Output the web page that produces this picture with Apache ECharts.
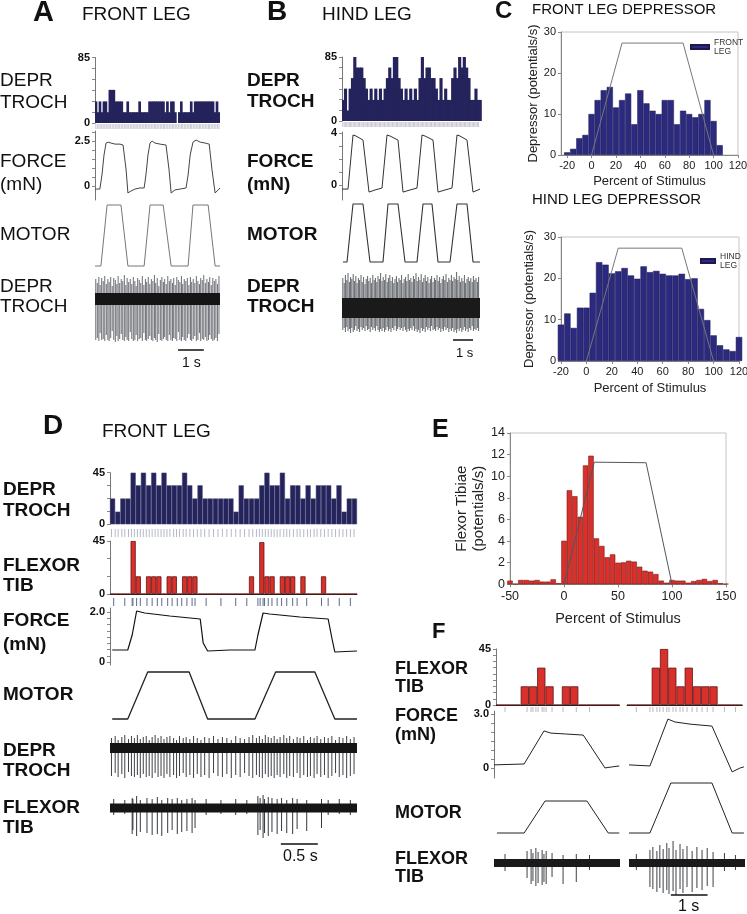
<!DOCTYPE html>
<html><head><meta charset="utf-8">
<script src="https://cdn.jsdelivr.net/npm/echarts@6/dist/echarts.min.js"></script>
<style>html,body{margin:0;padding:0;background:#fff}#c{width:747px;height:914px}</style>
</head><body><div id="c"></div>
<script>
const FONT = '"Liberation Sans", Arial, Helvetica, sans-serif';

// ---------- DATA ----------
// Panel A (front leg): depressor firing histogram (spikes/s per bin), force (mN), motor (normalised)
const histA = [28,14,28,14,28,28,14,43,43,43, 28,28,28,28,14,14,28,14,14,14, 14,14,28,14,14,14,14,28,28,28,
  28,28,28,28,28,14,28,14,28,28, 14,0,14,28,14,14,14,14,28,14, 28,28,28,28,28,28,28,28,28,28, 14,28,14];
const durA = 4.86; // s
const forceA = [[0,-0.17],[0.19,-0.17],[0.27,0.61],[0.35,1.72],[0.43,2.39],[0.51,2.44],[0.62,2.39],[0.78,2.33],[0.97,2.33],[1.09,2.28],[1.21,0.89],[1.28,-0.39],[1.40,-0.28],[1.56,-0.17],[1.75,-0.11],[1.91,-0.11],[1.98,0.61],[2.06,1.72],[2.14,2.39],[2.22,2.5],[2.33,2.39],[2.53,2.33],[2.76,2.28],[2.88,0.89],[2.96,-0.39],[3.11,-0.22],[3.31,-0.17],[3.54,-0.11],[3.62,0.61],[3.70,1.72],[3.81,2.44],[3.93,2.56],[4.09,2.44],[4.28,2.39],[4.44,2.33],[4.55,0.89],[4.67,-0.39],[4.79,-0.22],[4.86,-0.11]];
const motorA = [[0,0],[0.23,0],[0.47,1],[1.01,1],[1.28,0],[1.91,0],[2.14,1],[2.65,1],[2.96,0],[3.62,0],[3.81,1],[4.40,1],[4.67,0],[4.86,0]];
// recorded spikes: [time s, upward peak, downward peak] (relative units)
const spikesA = [[0.03,2.0,-4.1],[0.09,1.6,-3.9],[0.15,2.2,-4.2],[0.20,1.4,-3.4],[0.26,2.1,-4.1],[0.32,1.8,-4.0],[0.38,2.3,-4.2],[0.44,1.5,-3.6],[0.50,2.0,-4.1],[0.55,1.7,-4.2],[0.61,2.2,-3.9],[0.67,1.3,-3.2],[0.73,2.1,-4.1],[0.79,1.9,-4.3],[0.85,1.5,-3.7],[0.90,2.3,-4.2],[0.96,1.6,-4.0],[1.02,2.0,-3.5],[1.08,1.8,-4.1],[1.14,2.4,-4.2],[1.20,1.4,-3.8],[1.25,2.1,-4.1],[1.31,1.7,-4.2],[1.37,2.0,-3.3],[1.43,1.5,-4.0],[1.49,2.2,-4.2],[1.55,1.8,-4.1],[1.60,1.3,-3.6],[1.66,2.1,-4.2],[1.72,1.9,-4.0],[1.78,1.6,-3.9],[1.84,2.3,-4.2],[1.90,1.4,-3.4],[1.96,2.0,-4.1],[2.01,1.7,-4.2],[2.07,2.2,-4.0],[2.13,1.5,-3.7],[2.19,2.0,-4.1],[2.25,1.8,-4.2],[2.31,2.4,-3.9],[2.36,1.6,-4.1],[2.42,2.1,-4.3],[2.48,1.3,-3.5],[2.54,1.9,-4.1],[2.60,2.2,-4.2],[2.66,1.7,-4.0],[2.71,2.0,-3.8],[2.77,1.5,-4.1],[2.83,2.3,-4.2],[2.89,1.8,-3.6],[2.95,2.0,-4.1],[3.01,1.6,-4.2],[3.06,2.1,-3.9],[3.12,1.4,-4.0],[3.18,2.2,-4.2],[3.24,1.9,-3.3],[3.30,1.7,-4.1],[3.36,2.3,-4.2],[3.41,1.5,-3.8],[3.47,2.0,-4.1],[3.53,1.8,-4.2],[3.59,2.1,-3.9],[3.65,1.4,-3.5],[3.71,2.2,-4.1],[3.76,1.7,-4.2],[3.82,2.0,-4.0],[3.88,1.6,-3.7],[3.94,2.3,-4.2],[4.00,1.8,-4.1],[4.06,1.5,-3.4],[4.11,2.1,-4.2],[4.17,1.9,-4.0],[4.23,2.4,-4.1],[4.29,1.6,-3.8],[4.35,2.0,-4.2],[4.41,1.7,-4.1],[4.46,2.2,-3.6],[4.52,1.4,-4.0],[4.58,2.1,-4.2],[4.64,1.8,-4.1],[4.70,2.0,-3.9],[4.76,1.5,-4.2],[4.82,2.3,-3.5]];

// Panel B (hind leg)
const histB = [28,43,14,43,57,85,71,71,71,57, 43,28,43,28,43,28,43,28,43,57, 71,57,85,85,57,43,28,43,28,43,
  28,43,28,57,85,57,71,71,57,57, 43,28,57,28,43,28,28,57,71,57, 85,71,85,71,57,28,28,43,28,28];
const durB = 6.9;
const forceB = [[0,-0.31],[0.3,-0.31],[0.55,3.85],[0.7,3.77],[1.05,3.46],[1.35,-0.54],[1.65,-0.38],[2.0,-0.23],[2.25,3.85],[2.4,3.77],[2.8,3.46],[3.05,-0.54],[3.4,-0.38],[3.75,-0.23],[4.0,3.85],[4.15,3.77],[4.55,3.46],[4.8,-0.54],[5.15,-0.38],[5.5,-0.23],[5.75,3.85],[5.9,3.77],[6.25,3.46],[6.55,-0.54],[6.9,-0.31]];
const motorB = [[0.05,0],[0.25,0],[0.55,1],[1.05,1],[1.4,0],[2.05,0],[2.3,1],[2.8,1],[3.15,0],[3.75,0],[4.05,1],[4.5,1],[4.8,0],[5.4,0],[5.75,1],[6.25,1],[6.55,0],[6.9,0]];
const spikesB = [[0.04,3.0,-2.2],[0.11,2.5,-2.0],[0.17,3.3,-2.4],[0.24,2.8,-1.9],[0.30,3.5,-2.3],[0.37,2.6,-2.1],[0.43,3.1,-2.5],[0.49,2.9,-2.0],[0.56,3.4,-2.4],[0.62,2.7,-2.2],[0.69,3.2,-1.8],[0.75,2.5,-2.3],[0.82,3.0,-2.1],[0.88,2.8,-2.4],[0.95,3.3,-1.9],[1.01,2.6,-2.2],[1.08,3.1,-2.0],[1.15,2.4,-2.3],[1.21,2.9,-1.8],[1.28,3.2,-2.2],[1.34,2.7,-2.1],[1.41,3.0,-2.4],[1.47,2.5,-1.9],[1.54,3.3,-2.2],[1.61,2.8,-2.0],[1.67,3.0,-2.3],[1.74,2.6,-1.8],[1.80,3.2,-2.2],[1.87,2.9,-2.4],[1.93,3.5,-2.1],[2.00,2.7,-2.3],[2.06,3.1,-2.0],[2.13,2.8,-2.4],[2.19,3.4,-2.2],[2.26,2.6,-1.9],[2.32,3.0,-2.3],[2.39,3.3,-2.1],[2.45,2.7,-2.4],[2.52,3.1,-2.0],[2.59,2.5,-2.2],[2.65,2.9,-1.8],[2.72,3.2,-2.3],[2.78,2.6,-2.1],[2.85,3.0,-1.9],[2.91,2.8,-2.2],[2.98,3.3,-2.0],[3.05,2.5,-2.3],[3.11,2.9,-1.9],[3.18,3.1,-2.2],[3.24,2.7,-2.4],[3.31,3.4,-2.1],[3.37,2.8,-2.3],[3.44,3.0,-2.0],[3.50,2.6,-2.2],[3.57,3.2,-1.8],[3.63,2.9,-2.3],[3.70,3.5,-2.1],[3.76,2.7,-2.4],[3.83,3.1,-2.2],[3.90,2.8,-2.5],[3.96,3.4,-2.0],[4.03,2.6,-2.3],[4.09,3.0,-2.1],[4.16,3.3,-2.4],[4.22,2.7,-1.9],[4.29,3.1,-2.2],[4.35,2.5,-2.0],[4.42,2.9,-2.3],[4.48,3.2,-1.8],[4.55,2.6,-2.2],[4.62,3.0,-2.1],[4.68,2.8,-2.3],[4.75,3.3,-1.9],[4.81,2.7,-2.2],[4.88,3.1,-2.0],[4.94,2.5,-2.4],[5.01,2.9,-2.1],[5.07,3.2,-2.3],[5.14,2.8,-1.9],[5.20,3.4,-2.2],[5.27,2.6,-2.0],[5.34,3.0,-2.4],[5.40,2.8,-2.1],[5.47,3.3,-2.3],[5.53,2.7,-2.0],[5.60,3.1,-2.4],[5.66,2.9,-2.2],[5.73,3.6,-2.5],[5.79,2.8,-2.1],[5.86,3.2,-2.3],[5.92,2.6,-2.0],[5.99,3.0,-2.4],[6.05,2.7,-2.2],[6.12,3.3,-1.9],[6.18,2.5,-2.3],[6.25,2.9,-2.1],[6.31,3.1,-2.4],[6.38,2.7,-2.0],[6.44,3.0,-2.2],[6.51,2.6,-1.8],[6.57,3.2,-2.3],[6.64,2.8,-2.1],[6.70,3.0,-2.2],[6.77,2.6,-2.0],[6.83,3.1,-2.3]];

// Panel C: depressor rate vs percent of stimulus (5% bins)
const cFrontX = [-20,-15,-10,-5,0,5,10,15,20,25,30,35,40,45,50,55,60,65,70,75,80,85,90,95,100,105];
const cFront  = [0.65,1.5,4.1,4.9,10.0,13.4,15.8,16.6,11.6,13.4,15.0,7.5,15.8,12.6,10.8,10.0,13.4,13.4,7.5,10.8,10.0,9.2,10.0,13.4,8.3,2.4];
const cHindX  = [-20,-15,-10,-5,0,5,10,15,20,25,30,35,40,45,50,55,60,65,70,75,80,85,90,95,100,105,110,115,120];
const cHind   = [8.8,11.5,8.0,12.9,12.9,16.5,23.9,23.3,21.2,21.7,22.5,20.7,19.9,22.9,21.5,21.8,21.1,20.7,20.7,21.1,19.8,20.0,12.6,9.9,6.2,3.8,2.8,2.4,5.8];
const cStim   = [[0,0],[25,27.3],[75,27.3],[100,0]];

// Panel D (front leg, depressor + flexor)
const histD = [22.5,11,22.5,22.5,45,34,45,34,45,34, 45,34,34,34,45,34,22.5,34,22.5,22.5, 22.5,22.5,22.5,22.5,11,34,22.5,22.5,22.5,34,
  45,34,34,45,22.5,34,34,22.5,34,22.5, 34,34,34,22.5,34,11,22.5,22.5];
const flexD = [0,0,0,0,45,15,0,15,15,15, 0,15,15,0,15,15,15,0,0,0, 0,0,0,0,0,0,0,15,0,44,
  15,15,0,15,15,15,0,15,0,0, 0,15,0,0,0,0,0,0];
const durD = 3.34;
const forceD = [[0.03,0.48],[0.24,0.48],[0.30,1.08],[0.36,2.04],[0.47,1.96],[0.81,1.84],[1.22,1.72],[1.26,0.76],[1.32,0.44],[1.62,0.48],[1.96,0.48],[2.0,1.08],[2.07,1.96],[2.16,1.92],[2.57,1.8],[2.95,1.72],[3.0,0.96],[3.04,0.4],[3.34,0.44]];
const motorD = [[0.03,0],[0.24,0],[0.51,1],[1.07,1],[1.32,0],[1.96,0],[2.24,1],[2.77,1],[3.04,0],[3.34,0]];
const spikesDdepr = [[0.02,1.0,-2.8],[0.07,1.2,-2.5],[0.11,0.8,-2.9],[0.16,1.1,-2.6],[0.20,1.3,-3.0],[0.25,0.9,-2.4],[0.29,1.2,-2.8],[0.33,1.0,-2.9],[0.37,1.3,-2.7],[0.41,0.9,-3.0],[0.45,1.1,-2.6],[0.49,1.2,-2.9],[0.53,0.8,-2.8],[0.57,1.1,-3.0],[0.61,1.3,-2.5],[0.65,1.0,-2.9],[0.69,1.2,-2.8],[0.73,0.9,-3.0],[0.77,1.1,-2.6],[0.81,1.2,-2.9],[0.86,1.0,-2.7],[0.90,0.8,-3.0],[0.94,1.2,-2.8],[0.99,1.0,-2.5],[1.03,1.1,-2.9],[1.08,0.9,-2.7],[1.13,1.2,-3.0],[1.18,1.0,-2.6],[1.23,0.8,-2.9],[1.28,1.1,-2.7],[1.34,1.0,-3.0],[1.40,1.2,-2.5],[1.46,0.9,-2.8],[1.52,1.1,-2.9],[1.58,1.0,-2.6],[1.64,0.8,-3.0],[1.70,1.2,-2.7],[1.76,1.0,-2.9],[1.82,0.9,-2.5],[1.88,1.1,-2.8],[1.93,1.3,-3.0],[1.98,1.0,-2.7],[2.02,1.2,-2.9],[2.06,0.9,-3.0],[2.10,1.3,-2.6],[2.14,1.1,-2.9],[2.18,1.0,-2.8],[2.22,1.2,-3.0],[2.26,0.9,-2.7],[2.30,1.1,-2.9],[2.35,1.3,-2.6],[2.39,1.0,-3.0],[2.43,1.2,-2.8],[2.48,0.9,-2.9],[2.53,1.1,-2.5],[2.57,1.0,-3.0],[2.62,1.2,-2.7],[2.67,0.8,-2.9],[2.71,1.1,-2.8],[2.76,1.0,-3.0],[2.80,1.2,-2.6],[2.85,0.9,-2.9],[2.90,1.1,-2.7],[2.95,1.0,-3.0],[3.00,1.2,-2.8],[3.05,0.8,-2.5],[3.10,1.1,-2.9],[3.15,1.0,-2.7],[3.20,1.2,-3.0],[3.25,0.9,-2.8],[3.30,1.1,-2.6]];
const spikesDflex = [[0.05,0.9,-0.7],[0.20,0.8,-0.6],[0.30,1.0,-2.6],[0.31,0.9,-2.2],[0.36,1.2,-2.8],[0.41,0.8,-2.4],[0.50,1.0,-2.5],[0.57,0.9,-2.7],[0.64,1.1,-2.6],[0.70,0.8,-2.8],[0.78,1.0,-2.5],[0.84,0.9,-2.2],[0.91,1.0,-2.6],[0.97,0.8,-2.4],[1.04,0.9,-2.3],[1.11,1.0,-2.5],[1.15,0.8,-2.0],[1.30,0.9,-0.7],[1.50,0.8,-0.6],[1.70,0.9,-0.7],[1.85,0.8,-0.6],[2.00,1.2,-2.7],[2.03,1.0,-2.2],[2.07,1.3,-3.0],[2.09,0.9,-2.5],[2.14,1.1,-2.8],[2.19,1.0,-2.4],[2.26,0.9,-2.6],[2.32,1.0,-2.3],[2.39,0.8,-2.5],[2.47,1.0,-2.6],[2.53,0.9,-2.1],[2.66,0.8,-2.3],[2.86,0.9,-2.0],[2.95,0.8,-0.7],[3.10,0.9,-0.6],[3.25,0.8,-0.7]];

// Panel E: flexor tibiae rate vs percent of stimulus
const eX = [-50,-45,-40,-35,-30,-25,-20,-15,-10,-5,0,5,10,15,20,25,30,35,40,45,50,55,60,65,70,75,80,85,90,95,100,105,110,115,120,125,130,135,140,145,150];
const eY = [0.34,0.05,0.4,0.4,0.34,0.4,0.25,0.25,0.46,0.1,4.03,8.7,8.15,6.25,11.0,11.9,4.25,3.55,2.5,2.77,2.0,2.03,2.18,2.1,1.63,1.26,1.17,0.95,0.34,0.15,0.4,0.34,0.34,0.15,0.3,0.4,0.5,0.3,0.4,0.1,0.05];
const eStim = [[0,0],[28,11.3],[76,11.25],[100,0]];

// Panel F: two stimuli of different amplitude
const histFL = [0,0,0,15,15,30,15,0,15,15,0,0,0,0,0];
const histFR = [0,0,0,30,45,30,15,30,15,15,15,0,0,0];
const durFL = 3.43, durFR = 3.16;
const forceFL = [[0,0.17],[0.82,0.22],[1.36,2.06],[1.55,1.94],[1.95,1.89],[2.43,1.83],[3.02,0],[3.22,0.06],[3.41,0.11]];
const forceFR = [[0,0.17],[0.57,0.11],[1.06,2.72],[1.25,2.56],[1.66,2.44],[2.26,2.33],[2.81,-0.22],[3.03,0],[3.13,0.06]];
const motorFL = [[0.08,0],[0.82,0],[1.39,0.64],[2.53,0.64],[3.11,0],[3.41,0]];
const motorFR = [[0,0],[0.57,0],[1.14,1],[2.26,1],[2.81,0],[3.13,0]];
const spikesFL = [[0.30,0.9,-0.8],[0.90,1.2,-1.5],[1.01,1.4,-2.1],[1.06,1.0,-1.8],[1.14,1.5,-2.3],[1.20,1.1,-2.0],[1.31,1.3,-2.2],[1.36,0.9,-1.9],[1.42,1.2,-2.1],[1.58,1.0,-1.4],[1.88,0.8,-2.1],[2.24,0.9,-1.9],[2.60,0.8,-0.7]];
const spikesFR = [[0.20,0.9,-0.7],[0.57,1.3,-2.4],[0.65,1.6,-2.6],[0.76,1.2,-2.9],[0.84,1.8,-2.5],[0.93,1.4,-3.0],[1.03,2.0,-2.7],[1.09,1.5,-3.1],[1.20,2.2,-2.8],[1.28,1.3,-3.2],[1.39,1.9,-2.6],[1.47,1.4,-3.0],[1.58,1.7,-2.4],[1.72,1.2,-2.9],[1.85,1.6,-2.5],[1.99,1.3,-2.7],[2.13,1.5,-2.3],[2.29,1.1,-2.4],[2.60,1.0,-0.8],[2.90,0.8,-0.7]];

// ---------- BUILD ----------
const grids = [], xAxes = [], yAxes = [], series = [];
function addGrid(b, xa, ya) {
  const i = grids.length;
  grids.push({left: b[0], top: b[1], width: b[2], height: b[3], containLabel: false, outerBoundsMode: 'none',
    show: !!b[4], borderColor: '#c4c4c4', borderWidth: 1, backgroundColor: 'transparent'});
  xAxes.push(Object.assign({gridIndex: i, type: 'value', show: false, splitLine: {show: false}}, xa));
  yAxes.push(Object.assign({gridIndex: i, type: 'value', show: false, splitLine: {show: false}}, ya));
  return i;
}
const tX = (max) => ({min: 0, max: max});
const catX = (n, line) => ({type: 'category', data: Array.from({length: n}, (_, k) => k), show: !!line,
  boundaryGap: true, axisLine: {show: !!line, lineStyle: {color: '#222', width: 1}}, axisTick: {show: false}, axisLabel: {show: false}});
function traceY(min, max, labels, ticks, fmt) {
  return {show: true, min: min, max: max,
    axisLine: {show: true, onZero: false, lineStyle: {color: '#777', width: 1}},
    axisTick: {show: true, customValues: ticks, length: 3, lineStyle: {color: '#888', width: 1}},
    axisLabel: {show: true, customValues: labels, formatter: fmt || (v => String(v)), fontFamily: FONT,
      fontWeight: 'bold', fontSize: 11, color: '#111', margin: 5},
    splitLine: {show: false}};
}
const hidY = (min, max) => ({min: min, max: max});
function lineS(gi, data, color, w) {
  return {type: 'line', xAxisIndex: gi, yAxisIndex: gi, data: data, symbol: 'none', showSymbol: false,
    silent: true, clip: false, lineStyle: {color: color, width: w}};
}
function histS(gi, data, color, border, bw, width) {
  const s = {type: 'bar', xAxisIndex: gi, yAxisIndex: gi, data: data, barCategoryGap: '0%', silent: true,
    itemStyle: {color: color, borderColor: border, borderWidth: bw}};
  if (width) s.barWidth = width;
  return s;
}
function spikeS(gi, data, color, w) {
  return {type: 'custom', xAxisIndex: gi, yAxisIndex: gi, data: data, silent: true, encode: {x: 0, y: [1, 2]},
    renderItem: function (p, api) {
      const a = api.coord([api.value(0), api.value(1)]), b = api.coord([api.value(0), api.value(2)]);
      return {type: 'line', shape: {x1: a[0], y1: a[1], x2: b[0], y2: b[1]}, style: {stroke: color, lineWidth: w}};
    }};
}
function rasterS(gi, data, color) {
  return {type: 'custom', xAxisIndex: gi, yAxisIndex: gi, data: data, silent: true, encode: {x: 0},
    renderItem: function (p, api) {
      const a = api.coord([api.value(0), 1]), b = api.coord([api.value(0), -1]);
      return {type: 'line', shape: {x1: a[0], y1: a[1], x2: b[0], y2: b[1]}, style: {stroke: color, lineWidth: 1}};
    }};
}
const NAVY = '#24235c', RED = '#d9302b', RED_B = '#5e1411';

// ---- Panel A ----
let g;
g = addGrid([95, 57.5, 125, 65.5], catX(histA.length), traceY(0, 85, [0, 85], [0, 14.2, 28.3, 42.5, 56.7, 70.8, 85]));
series.push(histS(g, histA, NAVY, NAVY, 0, '135%'));
g = addGrid([95, 124, 125, 5], tX(durA), hidY(-1, 1)); series.push(rasterS(g, spikesA, '#c8c8d0'));
g = addGrid([95, 131, 125, 69], tX(durA), traceY(-0.78, 3.06, [0, 2.5], [0, 0.5, 1, 1.5, 2, 2.5, 3]));
series.push(lineS(g, forceA, '#444', 1));
g = addGrid([95, 198.9, 125, 73.2], tX(durA), hidY(-0.1, 1.1)); series.push(lineS(g, motorA, '#777', 1));
g = addGrid([95, 272, 125, 80], tX(durA), hidY(-5.3, 2.7));
series.push(lineS(g, [[0, 0], [durA, 0]], '#151515', 12));
series.push(spikeS(g, spikesA, 'rgba(80,84,90,0.85)', 1));
series.push(lineS(g, [[3.23, -5.1], [4.23, -5.1]], '#111', 1.5));

// ---- Panel B ----
g = addGrid([342, 57, 139.8, 64], catX(histB.length), traceY(0, 85, [0, 85], [0, 14.2, 28.3, 42.5, 56.7, 70.8, 85]));
series.push(histS(g, histB, NAVY, NAVY, 0, '135%'));
g = addGrid([342, 122, 138, 5], tX(durB), hidY(-1, 1)); series.push(rasterS(g, spikesB, '#c8c8d0'));
g = addGrid([342, 132, 138, 68], tX(durB), traceY(-1.15, 4.08, [0, 4], [0, 1, 2, 3, 4]));
series.push(lineS(g, forceB, '#333', 1));
g = addGrid([342, 198.2, 138, 69.6], tX(durB), hidY(-0.1, 1.1)); series.push(lineS(g, motorB, '#333', 1.1));
g = addGrid([342, 270, 138, 72], tX(durB), hidY(-3.4, 3.8));
series.push(lineS(g, [[0, 0], [durB, 0]], '#1a1a1a', 20));
series.push(spikeS(g, spikesB, 'rgba(70,74,80,0.85)', 1));
series.push(lineS(g, [[5.55, -3.2], [6.55, -3.2]], '#111', 1.5));

// ---- Panel C ----
function cX(min, nameGap) {
  return {show: true, min: min, max: 120,
    axisLine: {show: true, onZero: false, lineStyle: {color: '#888'}},
    axisTick: {show: true, customValues: [-20, 0, 20, 40, 60, 80, 100, 120], length: 3, lineStyle: {color: '#888'}},
    axisLabel: {customValues: [-20, 0, 20, 40, 60, 80, 100, 120], fontFamily: FONT, fontSize: 11, color: '#222', margin: 5},
    name: 'Percent of Stimulus', nameLocation: 'middle', nameGap: nameGap,
    nameTextStyle: {fontFamily: FONT, fontSize: 13, color: '#222'}};
}
function cY(nameGap) {
  return {show: true, min: 0, max: 30, interval: 10,
    axisLine: {show: true, onZero: false, lineStyle: {color: '#888'}}, axisTick: {show: true, length: 3, lineStyle: {color: '#888'}},
    axisLabel: {fontFamily: FONT, fontSize: 11, color: '#222', margin: 5},
    name: 'Depressor (potentials/s)', nameLocation: 'middle', nameRotate: 90, nameGap: nameGap,
    nameTextStyle: {fontFamily: FONT, fontSize: 13, color: '#222'}};
}
g = addGrid([561, 32, 177, 123, true], cX(-25, 20), cY(20));
series.push({type: 'bar', name: 'FRONT LEG', xAxisIndex: g, yAxisIndex: g, barWidth: 6.1, silent: true,
  data: cFrontX.map((x, k) => [x, cFront[k]]), itemStyle: {color: '#2c2a7e', borderColor: '#1b1950', borderWidth: 0.5}});
series.push(lineS(g, cStim, '#777', 1));
g = addGrid([561, 237, 178, 124, true], cX(-20, 21), cY(25));
series.push({type: 'bar', name: 'HIND LEG', xAxisIndex: g, yAxisIndex: g, barWidth: 6.35, silent: true,
  data: cHindX.map((x, k) => [x, cHind[k]]), itemStyle: {color: '#2c2a7e', borderColor: '#1b1950', borderWidth: 0.5}});
series.push(lineS(g, cStim, '#777', 1));

// ---- Panel D ----
g = addGrid([110, 472.7, 247, 51.6], catX(histD.length), traceY(0, 45, [0, 45], [0, 11.25, 22.5, 33.75, 45]));
series.push(histS(g, histD, NAVY, '#4a4a78', 0.5));
g = addGrid([110, 529, 247, 8], tX(durD), hidY(-1, 1)); series.push(rasterS(g, spikesDdepr, '#b4b8c8'));
g = addGrid([110, 541, 247, 53], catX(flexD.length, true), traceY(0, 45, [0, 45], [0, 15, 30, 45]));
series.push(histS(g, flexD, RED, RED_B, 0.8));
g = addGrid([110, 598, 247, 8], tX(durD), hidY(-1, 1)); series.push(rasterS(g, spikesDflex, '#5d6b8c'));
g = addGrid([110, 608, 247, 57], tX(durD), traceY(-0.12, 2.16, [0, 2], [0, 0.25, 0.5, 0.75, 1, 1.25, 1.5, 1.75, 2], v => v === 2 ? '2.0' : String(v)));
series.push(lineS(g, forceD, '#111', 1.2));
g = addGrid([110, 667.3, 247, 56.4], tX(durD), hidY(-0.1, 1.1)); series.push(lineS(g, motorD, '#222', 1.3));
g = addGrid([110, 733, 247, 49], tX(durD), hidY(-3.4, 1.5));
series.push(lineS(g, [[0, 0], [durD, 0]], '#151515', 10));
series.push(spikeS(g, spikesDdepr, 'rgba(40,44,50,0.9)', 1));
g = addGrid([110, 796, 247, 52], tX(durD), hidY(-4.0, 1.2));
series.push(lineS(g, [[0, 0], [durD, 0]], '#151515', 9));
series.push(spikeS(g, spikesDflex, 'rgba(30,34,40,0.9)', 1));
series.push(lineS(g, [[2.31, -3.6], [2.81, -3.6]], '#111', 1.5));

// ---- Panel E ----
g = addGrid([510, 433, 216, 151.3, true],
  {show: true, min: -50, max: 150, interval: 50,
   axisLine: {show: true, onZero: false, lineStyle: {color: '#888'}}, axisTick: {show: true, length: 3, lineStyle: {color: '#888'}},
   axisLabel: {fontFamily: FONT, fontSize: 12.5, color: '#222', margin: 6},
   name: 'Percent of Stimulus', nameLocation: 'middle', nameGap: 27, nameTextStyle: {fontFamily: FONT, fontSize: 14.5, color: '#222'}},
  {show: true, min: 0, max: 14, interval: 2,
   axisLine: {show: true, onZero: false, lineStyle: {color: '#888'}}, axisTick: {show: true, length: 3, lineStyle: {color: '#888'}},
   axisLabel: {fontFamily: FONT, fontSize: 12.5, color: '#222', margin: 5},
   name: 'Flexor Tibiae\n(potentials/s)', nameLocation: 'middle', nameRotate: 90, nameGap: 22,
   nameTextStyle: {fontFamily: FONT, fontSize: 15, color: '#222', lineHeight: 17}});
series.push({type: 'bar', xAxisIndex: g, yAxisIndex: g, barWidth: 5.4, silent: true,
  data: eX.map((x, k) => [x, eY[k]]), itemStyle: {color: RED, borderColor: '#7a1a15', borderWidth: 0.6}});
series.push(lineS(g, eStim, '#555', 1));

// ---- Panel F ----
g = addGrid([496, 649, 123.5, 56], catX(histFL.length, true), traceY(0, 45, [0, 45], [0, 5, 10, 15, 20, 25, 30, 35, 40, 45]));
series.push(histS(g, histFL, RED, RED_B, 0.8));
g = addGrid([627, 649, 115.3, 56], catX(histFR.length, true), hidY(0, 45));
series.push(histS(g, histFR, RED, RED_B, 0.8));
g = addGrid([494, 707, 126, 5], tX(durFL), hidY(-1, 1)); series.push(rasterS(g, spikesFL, '#b8b8c0'));
g = addGrid([629, 707, 116, 5], tX(durFR), hidY(-1, 1)); series.push(rasterS(g, spikesFR, '#b8b8c0'));
g = addGrid([494, 711, 126, 67], tX(durFL), traceY(-0.56, 3.17, [0, 3], [0, 0.5, 1, 1.5, 2, 2.5, 3], v => v === 3 ? '3.0' : String(v)));
series.push(lineS(g, forceFL, '#222', 1));
g = addGrid([629, 711, 116, 67], tX(durFR), hidY(-0.56, 3.17)); series.push(lineS(g, forceFR, '#222', 1));
g = addGrid([494, 778, 126, 60], tX(durFL), hidY(-0.1, 1.1)); series.push(lineS(g, motorFL, '#222', 1));
g = addGrid([629, 778, 116, 60], tX(durFR), hidY(-0.1, 1.1)); series.push(lineS(g, motorFR, '#222', 1));
g = addGrid([494, 839, 126, 59], tX(durFL), hidY(-3.5, 2.4));
series.push(lineS(g, [[0, 0], [durFL, 0]], '#1a1a1a', 8));
series.push(spikeS(g, spikesFL, 'rgba(40,44,50,0.9)', 1));
g = addGrid([629, 839, 116, 59], tX(durFR), hidY(-3.5, 2.4));
series.push(lineS(g, [[0, 0], [durFR, 0]], '#1a1a1a', 8));
series.push(spikeS(g, spikesFR, 'rgba(40,44,50,0.9)', 1));
series.push(lineS(g, [[1.14, -3.2], [2.14, -3.2]], '#111', 1.5));

// ---------- TEXT ----------
function T(text, x, y, size, bold, lh) {
  return {type: 'text', x: x, y: y, silent: true, style: {text: text, fontFamily: FONT, fontSize: size,
    fontWeight: bold ? 'bold' : 'normal', fill: '#111', align: 'left', verticalAlign: 'middle', lineHeight: lh || size * 1.15}};
}
const texts = [
  T('A', 33, 12.5, 29, true), T('FRONT LEG', 82, 15, 19),
  T('DEPR\nTROCH', 0, 91.5, 19, false, 22), T('FORCE\n(mN)', 0, 173.5, 19, false, 23),
  T('MOTOR', 0, 235, 19), T('DEPR\nTROCH', 0, 296.5, 19, false, 20),
  T('1 s', 182, 363, 14),
  T('B', 267, 12, 28, true), T('HIND LEG', 322, 15, 19),
  T('DEPR\nTROCH', 247, 91, 19, true, 21), T('FORCE\n(mN)', 247, 173, 19, true, 23),
  T('MOTOR', 247, 234.5, 19, true), T('DEPR\nTROCH', 247, 296.5, 19, true, 20),
  T('1 s', 456, 353, 13),
  T('C', 495, 11.5, 24, true), T('FRONT LEG DEPRESSOR', 532, 10, 15), T('HIND LEG DEPRESSOR', 532, 200, 15),
  T('D', 43, 426, 28, true), T('FRONT LEG', 102, 432, 19),
  T('DEPR\nTROCH', 3, 500, 19, true, 21), T('FLEXOR\nTIB', 3, 575.5, 19, true, 20),
  T('FORCE\n(mN)', 3, 633, 19, true, 24), T('MOTOR', 3, 694.5, 19, true),
  T('DEPR\nTROCH', 3, 760.5, 19, true, 20), T('FLEXOR\nTIB', 3, 817.5, 19, true, 20),
  T('0.5 s', 283, 857, 16),
  T('E', 432, 430, 25, true),
  T('F', 432, 632, 22, true),
  T('FLEXOR\nTIB', 395, 678.5, 18, true, 18), T('FORCE\n(mN)', 395, 726, 18, true, 19),
  T('MOTOR', 395, 813.5, 18, true), T('FLEXOR\nTIB', 395, 868.5, 18, true, 18),
  T('1 s', 678, 907, 16)
];

const chart = echarts.init(document.getElementById('c'), null, {renderer: 'canvas'});
chart.setOption({
  animation: false,
  backgroundColor: '#fff',
  grid: grids, xAxis: xAxes, yAxis: yAxes, series: series,
  legend: [
    {data: ['FRONT LEG'], left: 685, top: 33, itemWidth: 18, itemHeight: 4, itemGap: 2, icon: 'rect',
     formatter: n => n.replace(' ', '\n'), textStyle: {fontFamily: FONT, fontSize: 8.5, color: '#333', lineHeight: 9}},
    {data: ['HIND LEG'], left: 695, top: 247, itemWidth: 14, itemHeight: 4, itemGap: 2, icon: 'rect',
     formatter: n => n.replace(' ', '\n'), textStyle: {fontFamily: FONT, fontSize: 8.5, color: '#333', lineHeight: 9}}
  ],
  graphic: texts
});
</script></body></html>
